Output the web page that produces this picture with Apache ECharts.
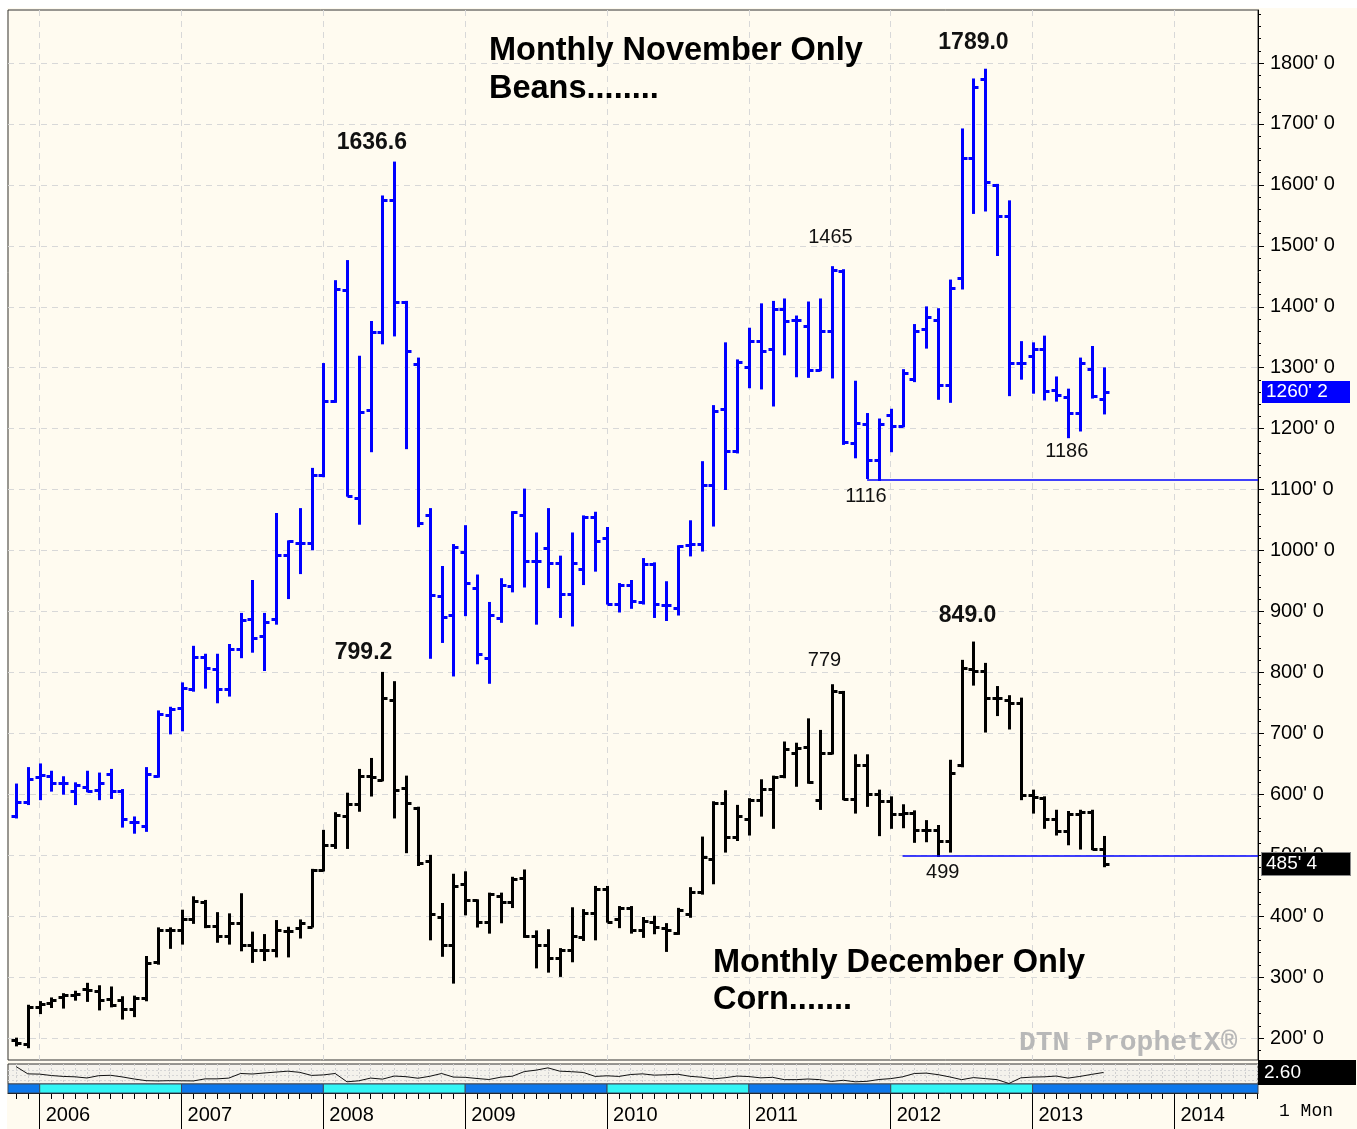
<!DOCTYPE html>
<html>
<head>
<meta charset="utf-8">
<title>Monthly November Beans / December Corn</title>
<script src="https://cdn.jsdelivr.net/npm/echarts@6/dist/echarts.min.js"></script>
<style>
  html, body { margin: 0; padding: 0; background: #fff; }
  #chart { position: absolute; left: 7px; top: 8px; width: 1350px; height: 1121px; }
</style>
</head>
<body>
<div id="chart"></div>
<script>
// one bar per month, Nov 2005 .. Jul 2013
const months = [
  '2005-11', '2005-12',
  '2006-01', '2006-02', '2006-03', '2006-04', '2006-05', '2006-06', '2006-07', '2006-08', '2006-09', '2006-10', '2006-11', '2006-12',
  '2007-01', '2007-02', '2007-03', '2007-04', '2007-05', '2007-06', '2007-07', '2007-08', '2007-09', '2007-10', '2007-11', '2007-12',
  '2008-01', '2008-02', '2008-03', '2008-04', '2008-05', '2008-06', '2008-07', '2008-08', '2008-09', '2008-10', '2008-11', '2008-12',
  '2009-01', '2009-02', '2009-03', '2009-04', '2009-05', '2009-06', '2009-07', '2009-08', '2009-09', '2009-10', '2009-11', '2009-12',
  '2010-01', '2010-02', '2010-03', '2010-04', '2010-05', '2010-06', '2010-07', '2010-08', '2010-09', '2010-10', '2010-11', '2010-12',
  '2011-01', '2011-02', '2011-03', '2011-04', '2011-05', '2011-06', '2011-07', '2011-08', '2011-09', '2011-10', '2011-11', '2011-12',
  '2012-01', '2012-02', '2012-03', '2012-04', '2012-05', '2012-06', '2012-07', '2012-08', '2012-09', '2012-10', '2012-11', '2012-12',
  '2013-01', '2013-02', '2013-03', '2013-04', '2013-05', '2013-06', '2013-07'
];

// November soybeans (cents)
const beanOpen = [
  565, 587,
  628, 630, 618, 606, 612, 607, 633, 606, 554, 548, 630, 730,
  742, 772, 825, 806, 772, 838, 887, 860, 887, 993, 1012, 1012,
  1124, 1246, 1428, 1086, 1230, 1358, 1576, 1408, 1306, 1059, 926, 894,
  998, 939, 824, 890, 941, 1059, 983, 1004, 980, 928, 970, 1055,
  1021, 913, 944, 915, 978, 911, 906, 1009, 1011, 1108, 1233, 1163,
  1301, 1344, 1330, 1397, 1378, 1368, 1297, 1361, 1459, 1176, 1207, 1149,
  1223, 1204, 1282, 1363, 1379, 1271, 1447, 1644, 1774, 1600, 1549, 1308,
  1319, 1330, 1263, 1252, 1225, 1298, 1249
];
const beanHigh = [
  616, 643,
  649, 637, 628, 618, 637, 634, 640, 607, 562, 643, 736, 742,
  782, 842, 829, 829, 845, 896, 950, 896, 1060, 1015, 1068, 1134,
  1306, 1442, 1475, 1318, 1375, 1581, 1636.6, 1408, 1315, 1068, 973, 1009,
  1040, 959, 914, 953, 1063, 1100, 1028, 1068, 990, 1028, 1056, 1062,
  1037, 945, 950, 986, 979, 948, 1007, 1048, 1145, 1237, 1340, 1312,
  1364, 1404, 1408, 1412, 1384, 1407, 1412, 1465, 1460, 1277, 1224, 1215,
  1231, 1296, 1370, 1399, 1396, 1443, 1691, 1773, 1789, 1600, 1573, 1342,
  1340, 1351, 1284, 1264, 1315, 1334, 1299
];
const beanLow = [
  562, 584,
  592, 606, 601, 584, 605, 592, 594, 547, 537, 540, 629, 700,
  705, 770, 775, 751, 762, 825, 834, 804, 880, 922, 963, 1002,
  1122, 1244, 1090, 1044, 1163, 1340, 1353, 1168, 1040, 824, 850, 795,
  894, 815, 783, 883, 933, 941, 880, 940, 891, 877, 945, 967,
  913, 900, 906, 913, 891, 886, 895, 992, 1000, 1041, 1101, 1161,
  1268, 1266, 1238, 1322, 1286, 1285, 1296, 1284, 1175, 1153, 1119, 1116,
  1163, 1204, 1278, 1333, 1249, 1244, 1430, 1554, 1558, 1485, 1255, 1282,
  1259, 1248, 1246, 1186, 1197, 1251, 1225
];
const beanClose = [
  587, 625,
  632, 618, 618, 616, 606, 618, 606, 559, 554, 634, 732, 740,
  774, 825, 808, 772, 838, 886, 857, 882, 993, 1015, 1012, 1124,
  1246, 1429, 1090, 1227, 1358, 1576, 1408, 1327, 1046, 927, 891, 1006,
  946, 830, 894, 944, 1063, 983, 983, 980, 929, 979, 1055, 1016,
  913, 944, 918, 978, 912, 911, 1007, 1011, 1108, 1229, 1163, 1310,
  1344, 1328, 1397, 1376, 1379, 1297, 1361, 1460, 1178, 1209, 1149, 1207,
  1204, 1291, 1361, 1384, 1271, 1430, 1644, 1761, 1604, 1549, 1308, 1307,
  1330, 1262, 1255, 1225, 1308, 1253, 1260.25
];

// December corn (cents)
const cornOpen = [
  196, 191,
  251, 258, 267, 270, 281, 278, 264, 262, 248, 265, 324, 378,
  377, 396, 424, 384, 367, 389, 352, 345, 345, 376, 380, 383,
  475, 517, 564, 584, 630, 623, 754, 611, 578, 491, 398, 353,
  452, 426, 390, 433, 424, 463, 368, 353, 331, 344, 366, 405,
  444, 395, 413, 377, 390, 381, 373, 403, 439, 494, 585, 530,
  559, 590, 609, 630, 667, 678, 590, 667, 768, 593, 648, 601,
  589, 568, 570, 541, 542, 523, 648, 806, 802, 758, 755, 750,
  599, 594, 559, 540, 567, 571, 511
];
const cornHigh = [
  199, 253,
  259, 265, 272, 276, 289, 285, 283, 267, 268, 333, 380, 380,
  409, 431, 425, 405, 403, 436, 373, 369, 392, 381, 393, 476,
  540, 569, 601, 640, 658, 799.2, 784, 629, 578, 499, 420, 468,
  472, 426, 437, 437, 463, 475, 375, 377, 346, 413, 410, 448,
  448, 415, 415, 397, 399, 387, 412, 446, 529, 587, 605, 581,
  592, 623, 629, 685, 683, 723, 704, 779, 768, 664, 664, 606,
  595, 582, 572, 556, 548, 655, 819, 849, 814, 776, 761, 757,
  606, 595, 573, 571, 573, 573, 530
];
const cornLow = [
  188, 185,
  241, 251, 250, 263, 261, 247, 252, 232, 236, 262, 322, 348,
  355, 389, 382, 358, 355, 344, 325, 328, 334, 334, 365, 383,
  475, 512, 512, 573, 598, 623, 562, 505, 484, 362, 335, 291,
  403, 383, 373, 390, 415, 366, 316, 309, 302, 326, 361, 362,
  391, 382, 373, 366, 372, 343, 371, 399, 437, 454, 506, 525,
  534, 565, 545, 628, 614, 619, 576, 667, 592, 570, 581, 533,
  545, 546, 522, 523, 499, 506, 646, 780, 703, 730, 708, 592,
  570, 545, 534, 518, 511, 510, 482
];
const cornClose = [
  192, 251,
  256, 262, 270, 273, 279, 263, 255, 248, 265, 323, 378, 378,
  396, 425, 384, 367, 388, 352, 345, 345, 377, 376, 388, 475,
  517, 566, 584, 630, 628, 758, 607, 585, 487, 403, 353, 450,
  426, 390, 436, 424, 461, 368, 353, 331, 344, 368, 405, 444,
  391, 413, 377, 392, 382, 377, 410, 439, 497, 585, 530, 565,
  590, 609, 628, 674, 676, 621, 667, 770, 593, 648, 601, 589,
  568, 570, 541, 542, 524, 635, 807, 802, 758, 758, 750, 599,
  595, 559, 540, 567, 571, 511, 485.5
];

// bean/corn ratio in the lower study pane
const ratio = [
  3.06, 2.49,
  2.47, 2.36, 2.29, 2.26, 2.17, 2.35, 2.38, 2.25, 2.09, 1.96, 1.94, 1.96,
  1.95, 1.94, 2.10, 2.10, 2.16, 2.52, 2.48, 2.56, 2.63, 2.70, 2.61, 2.37,
  2.41, 2.52, 1.87, 1.95, 2.16, 2.08, 2.32, 2.27, 2.15, 2.30, 2.52, 2.24,
  2.22, 2.13, 2.05, 2.23, 2.31, 2.67, 2.78, 2.96, 2.70, 2.66, 2.60, 2.29,
  2.34, 2.29, 2.44, 2.49, 2.39, 2.42, 2.46, 2.30, 2.23, 2.10, 2.19, 2.32,
  2.28, 2.18, 2.22, 2.04, 2.04, 2.09, 2.04, 1.90, 1.99, 1.87, 1.91, 2.05,
  2.12, 2.26, 2.52, 2.55, 2.43, 2.25, 2.04, 2.20, 2.12, 2.04, 1.74, 2.18,
  2.24, 2.26, 2.32, 2.16, 2.29, 2.45, 2.60
];

const priceTicks = [200, 300, 400, 500, 600, 700, 800, 900, 1000, 1100, 1200, 1300, 1400, 1500, 1600, 1700, 1800];
const years = ['2006', '2007', '2008', '2009', '2010', '2011', '2012', '2013', '2014'];

// x axis runs in months counted from Jan 2006
function monthPos(s) {
    const [y, mo] = s.split('-').map(Number);
    return (y - 2006) * 12 + (mo - 1);
}
const X_MIN = -2.68, X_MAX = 103.07;
const yearPos = years.map(y => (Number(y) - 2006) * 12);
const monthTicks = [];
for (let m = -2; m <= 103; m++) monthTicks.push(m);
const minorPriceTicks = [];
for (let v = 180; v <= 1880; v += 20) {
    if (v % 100 !== 0) minorPriceTicks.push(v);
}

const FONT = "'Liberation Sans', Arial, sans-serif";
const CREAM = '#fffbf0';
const BLUE = '#0000ff';

const beanData = months.map((m, i) => [monthPos(m), beanOpen[i], beanHigh[i], beanLow[i], beanClose[i]]);
const cornData = months.map((m, i) => [monthPos(m), cornOpen[i], cornHigh[i], cornLow[i], cornClose[i]]);
const ratioData = months.map((m, i) => [monthPos(m), ratio[i]]);

// year colour strip under the study pane
const stripEdges = [X_MIN].concat(yearPos.slice(0, 8), [X_MAX]);
const stripData = [];
for (let i = 0; i < stripEdges.length - 1; i++) {
    stripData.push([stripEdges[i], stripEdges[i + 1], i % 2]);
}

// OHLC bar: high-low stem, open tick on the left, close tick on the right
function ohlcRenderer(color) {
    return function (params, api) {
        const x = api.value(0);
        const o = api.coord([x, api.value(1)]);
        const h = api.coord([x, api.value(2)]);
        const l = api.coord([x, api.value(3)]);
        const c = api.coord([x, api.value(4)]);
        const cx = Math.round(h[0]) + 0.5;
        const oy = Math.round(o[1]) + 0.5;
        const cy = Math.round(c[1]) + 0.5;
        const st = { stroke: color, lineWidth: 3 };
        return {
            type: 'group',
            children: [
                { type: 'line', shape: { x1: cx, y1: h[1] - 1, x2: cx, y2: l[1] + 1 }, style: st },
                { type: 'line', shape: { x1: cx - 5, y1: oy, x2: cx, y2: oy }, style: st },
                { type: 'line', shape: { x1: cx, y1: cy, x2: cx + 5, y2: cy }, style: st }
            ]
        };
    };
}

function stripRenderer(params, api) {
    const a = api.coord([api.value(0), 1]);
    const b = api.coord([api.value(1), 0]);
    return {
        type: 'rect',
        shape: { x: a[0], y: a[1], width: b[0] - a[0], height: b[1] - a[1] },
        style: { fill: api.value(2) ? '#33f5f5' : '#0d78ec', stroke: '#3a4a60', lineWidth: 1 }
    };
}

const boldLabel = { fontSize: 23, fontWeight: 'bold', color: '#111', fontFamily: FONT };
const plainLabel = { fontSize: 20, color: '#111', fontFamily: FONT };

function note(text, m, v, style) {
    return { coord: [m, v], value: text, label: Object.assign({ show: true, position: 'inside', formatter: text }, style) };
}

const chart = echarts.init(document.getElementById('chart'));

const option = {
    animation: false,
    backgroundColor: CREAM,
    textStyle: { fontFamily: FONT },
    title: [
        {
            text: 'Monthly November Only\nBeans........',
            left: 482, top: 24, padding: 0,
            textStyle: { fontSize: 32.5, fontWeight: 'bold', color: '#000', lineHeight: 38, fontFamily: FONT }
        },
        {
            text: 'Monthly December Only\nCorn.......',
            left: 706, top: 937, padding: 0,
            textStyle: { fontSize: 32.5, fontWeight: 'bold', color: '#000', lineHeight: 37, fontFamily: FONT }
        },
        {
            text: 'DTN ProphetX®',
            left: 1012, top: 1021, padding: 0,
            textStyle: { fontSize: 28, fontWeight: 'bold', color: '#b8b8b8', fontFamily: "'Liberation Mono', monospace" }
        },
        {
            text: '1 Mon',
            left: 1272, top: 1094, padding: 0,
            textStyle: { fontSize: 18, fontWeight: 'normal', color: '#000', fontFamily: "'Liberation Mono', monospace" }
        }
    ],
    grid: [
        { left: 1, top: 2, width: 1250, height: 1050, show: true, borderColor: '#333', borderWidth: 1, backgroundColor: CREAM },
        { left: 1, top: 1056, width: 1250, height: 20, show: true, borderColor: '#333', borderWidth: 1, backgroundColor: '#f4f2ec' },
        { left: 1, top: 1076, width: 1250, height: 9, show: false },
        { left: 1, top: 1085, width: 1250, height: 36, show: false }
    ],
    xAxis: [
        {
            gridIndex: 0, type: 'value', min: X_MIN, max: X_MAX,
            axisLine: { show: false, onZero: false },
            axisTick: { show: false, customValues: yearPos },
            axisLabel: { show: false },
            splitLine: { show: true, lineStyle: { color: '#d8d8d8', type: [6, 5] } }
        },
        {
            // dotted screen in the study pane
            gridIndex: 1, type: 'value', min: X_MIN, max: X_MAX,
            axisLine: { show: false, onZero: false },
            axisTick: { show: false, customValues: monthTicks },
            axisLabel: { show: false },
            splitLine: { show: true, lineStyle: { color: '#cfcfcf', type: [2, 2] } }
        },
        {
            gridIndex: 2, type: 'value', min: X_MIN, max: X_MAX, show: false,
            axisLine: { onZero: false }
        },
        {
            gridIndex: 3, type: 'value', position: 'top', min: X_MIN, max: X_MAX,
            axisLine: { show: true, onZero: false, lineStyle: { color: '#000', width: 1 } },
            axisTick: { show: true, inside: true, length: 6, customValues: monthTicks, lineStyle: { color: '#000' } },
            axisLabel: {
                show: true, inside: true, customValues: yearPos, margin: 12,
                formatter: v => years[Math.round(v / 12)],
                align: 'left', padding: [0, 0, 0, 6], fontSize: 20, color: '#000', fontFamily: FONT
            },
            splitLine: { show: false }
        },
        {
            gridIndex: 3, type: 'value', position: 'top', min: X_MIN, max: X_MAX,
            axisLine: { show: false, onZero: false },
            axisTick: { show: true, inside: true, length: 36, customValues: yearPos, lineStyle: { color: '#000' } },
            axisLabel: { show: false },
            splitLine: { show: false }
        }
    ],
    yAxis: [
        {
            gridIndex: 0, type: 'value', position: 'right', min: 164, max: 1887,
            axisLine: { show: true, onZero: false, lineStyle: { color: '#000', width: 1 } },
            axisTick: { show: true, length: 6, customValues: priceTicks, lineStyle: { color: '#000' } },
            axisLabel: {
                customValues: priceTicks, margin: 12, fontSize: 20, color: '#000', fontFamily: FONT,
                formatter: v => v + "' 0"
            },
            splitLine: { show: true, lineStyle: { color: '#d8d8d8', type: [6, 5] } }
        },
        {
            gridIndex: 0, type: 'value', position: 'right', min: 164, max: 1887,
            axisLine: { show: false, onZero: false },
            axisTick: { show: true, length: 3, customValues: minorPriceTicks, lineStyle: { color: '#000' } },
            axisLabel: { show: false },
            splitLine: { show: false }
        },
        {
            gridIndex: 1, type: 'value', min: 1.7, max: 3.26,
            axisLine: { show: false, onZero: false },
            axisTick: { show: false, customValues: [2.0, 2.4, 2.8] },
            axisLabel: { show: false },
            splitLine: { show: true, lineStyle: { color: '#d6d6d6', type: [2, 2] } }
        },
        { gridIndex: 2, type: 'value', min: 0, max: 1, show: false, axisLine: { onZero: false } },
        { gridIndex: 3, type: 'value', min: 0, max: 1, show: false, axisLine: { onZero: false } }
    ],
    series: [
        {
            name: 'Beans',
            type: 'custom',
            xAxisIndex: 0, yAxisIndex: 0,
            renderItem: ohlcRenderer(BLUE),
            encode: { x: 0, y: [1, 2, 3, 4] },
            data: beanData,
            z: 3,
            markPoint: {
                symbolSize: 0, silent: true,
                data: [
                    note('1636.6', 28.1, 1669, boldLabel),
                    note('1789.0', 79.0, 1834, boldLabel),
                    note('1465', 66.9, 1513, plainLabel),
                    note('1116', 69.9, 1088, plainLabel),
                    note('1186', 86.9, 1162, plainLabel)
                ]
            },
            markLine: {
                silent: true, symbol: ['none', 'none'],
                data: [
                    [
                        { coord: [70, 1116], lineStyle: { color: BLUE, width: 1.5, type: 'solid' }, label: { show: false } },
                        { coord: [X_MAX, 1116] }
                    ],
                    {
                        yAxis: 1260.25,
                        lineStyle: { color: 'rgba(0,0,0,0)' },
                        label: {
                            show: true, position: 'end', distance: 4, formatter: "1260' 2",
                            color: '#fff', backgroundColor: BLUE, width: 80, padding: [2, 4, 1, 4],
                            fontSize: 19, fontFamily: FONT, align: 'left'
                        }
                    }
                ]
            }
        },
        {
            name: 'Corn',
            type: 'custom',
            xAxisIndex: 0, yAxisIndex: 0,
            renderItem: ohlcRenderer('#000'),
            encode: { x: 0, y: [1, 2, 3, 4] },
            data: cornData,
            z: 3,
            markPoint: {
                symbolSize: 0, silent: true,
                data: [
                    note('799.2', 27.4, 833, boldLabel),
                    note('849.0', 78.5, 893, boldLabel),
                    note('779', 66.4, 820, plainLabel),
                    note('499', 76.4, 472, plainLabel)
                ]
            },
            markLine: {
                silent: true, symbol: ['none', 'none'],
                data: [
                    [
                        { coord: [73, 499], lineStyle: { color: BLUE, width: 1.5, type: 'solid' }, label: { show: false } },
                        { coord: [X_MAX, 499] }
                    ],
                    {
                        yAxis: 485.5,
                        lineStyle: { color: 'rgba(0,0,0,0)' },
                        label: {
                            show: true, position: 'end', distance: 4, formatter: "485' 4",
                            color: '#fff', backgroundColor: '#000', borderColor: '#888', borderWidth: 1,
                            width: 80, padding: [2, 4, 1, 4], fontSize: 19, fontFamily: FONT, align: 'left'
                        }
                    }
                ]
            }
        },
        {
            name: 'Ratio',
            type: 'line',
            xAxisIndex: 1, yAxisIndex: 2,
            data: ratioData,
            showSymbol: false,
            lineStyle: { color: '#111', width: 1 },
            markLine: {
                silent: true, symbol: ['none', 'none'],
                data: [{
                    yAxis: 2.60,
                    lineStyle: { color: 'rgba(0,0,0,0)' },
                    label: {
                        show: true, position: 'end', distance: 0, formatter: '2.60',
                        color: '#fff', backgroundColor: '#000', width: 90, padding: [5, 2, 1, 6],
                        fontSize: 19, fontFamily: FONT, align: 'left'
                    }
                }]
            }
        },
        {
            name: 'Strip',
            type: 'custom',
            xAxisIndex: 2, yAxisIndex: 3,
            renderItem: stripRenderer,
            encode: { x: [0, 1] },
            data: stripData,
            silent: true
        }
    ]
};

chart.setOption(option);
</script>
</body>
</html>
